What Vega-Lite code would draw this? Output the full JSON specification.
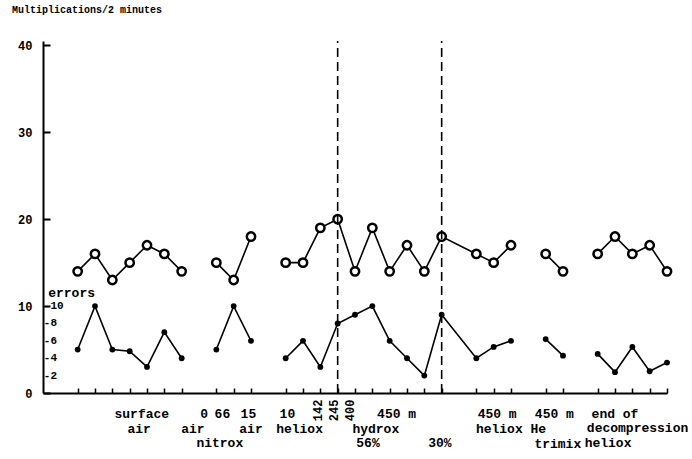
{
  "$schema": "https://vega.github.io/schema/vega-lite/v6.json",
  "width": 624,
  "height": 352,
  "autosize": {"type": "none"},
  "padding": {"left": 43, "top": 41, "right": 25, "bottom": 66},
  "background": "white",
  "config": {"view": {"stroke": null}, "font": "Liberation Mono"},
  "title": {"text": "Multiplications/2 minutes", "anchor": "start", "frame": "group", "dx": -31, "offset": 24, "font": "Liberation Mono", "fontSize": 10, "fontWeight": "bold", "color": "black"},
  "resolve": {"axis": {"x": "independent", "y": "independent"}},
  "datasets": {
    "pts": [
      {"i": 1, "v": 14, "s": "m", "g": "m1"}, {"i": 2, "v": 16, "s": "m", "g": "m1"}, {"i": 3, "v": 13, "s": "m", "g": "m1"}, {"i": 4, "v": 15, "s": "m", "g": "m1"}, {"i": 5, "v": 17, "s": "m", "g": "m1"}, {"i": 6, "v": 16, "s": "m", "g": "m1"}, {"i": 7, "v": 14, "s": "m", "g": "m1"},
      {"i": 9, "v": 15, "s": "m", "g": "m2"}, {"i": 10, "v": 13, "s": "m", "g": "m2"}, {"i": 11, "v": 18, "s": "m", "g": "m2"},
      {"i": 13, "v": 15, "s": "m", "g": "m3"}, {"i": 14, "v": 15, "s": "m", "g": "m3"}, {"i": 15, "v": 19, "s": "m", "g": "m3"}, {"i": 16, "v": 20, "s": "m", "g": "m3"}, {"i": 17, "v": 14, "s": "m", "g": "m3"}, {"i": 18, "v": 19, "s": "m", "g": "m3"}, {"i": 19, "v": 14, "s": "m", "g": "m3"}, {"i": 20, "v": 17, "s": "m", "g": "m3"}, {"i": 21, "v": 14, "s": "m", "g": "m3"}, {"i": 22, "v": 18, "s": "m", "g": "m3"}, {"i": 24, "v": 16, "s": "m", "g": "m3"}, {"i": 25, "v": 15, "s": "m", "g": "m3"}, {"i": 26, "v": 17, "s": "m", "g": "m3"},
      {"i": 28, "v": 16, "s": "m", "g": "m4"}, {"i": 29, "v": 14, "s": "m", "g": "m4"},
      {"i": 31, "v": 16, "s": "m", "g": "m5"}, {"i": 32, "v": 18, "s": "m", "g": "m5"}, {"i": 33, "v": 16, "s": "m", "g": "m5"}, {"i": 34, "v": 17, "s": "m", "g": "m5"}, {"i": 35, "v": 14, "s": "m", "g": "m5"},
      {"i": 1, "v": 5, "s": "e", "g": "e1"}, {"i": 2, "v": 10, "s": "e", "g": "e1"}, {"i": 3, "v": 5, "s": "e", "g": "e1"}, {"i": 4, "v": 4.8, "s": "e", "g": "e1"}, {"i": 5, "v": 3, "s": "e", "g": "e1"}, {"i": 6, "v": 7, "s": "e", "g": "e1"}, {"i": 7, "v": 4, "s": "e", "g": "e1"},
      {"i": 9, "v": 5, "s": "e", "g": "e2"}, {"i": 10, "v": 10, "s": "e", "g": "e2"}, {"i": 11, "v": 6, "s": "e", "g": "e2"},
      {"i": 13, "v": 4, "s": "e", "g": "e3"}, {"i": 14, "v": 6, "s": "e", "g": "e3"}, {"i": 15, "v": 3, "s": "e", "g": "e3"}, {"i": 16, "v": 8, "s": "e", "g": "e3"}, {"i": 17, "v": 9, "s": "e", "g": "e3"}, {"i": 18, "v": 10, "s": "e", "g": "e3"}, {"i": 19, "v": 6, "s": "e", "g": "e3"}, {"i": 20, "v": 4, "s": "e", "g": "e3"}, {"i": 21, "v": 2, "s": "e", "g": "e3"}, {"i": 22, "v": 9, "s": "e", "g": "e3"}, {"i": 24, "v": 4, "s": "e", "g": "e3"}, {"i": 25, "v": 5.3, "s": "e", "g": "e3"}, {"i": 26, "v": 6, "s": "e", "g": "e3"},
      {"i": 28, "v": 6.2, "s": "e", "g": "e4"}, {"i": 29, "v": 4.3, "s": "e", "g": "e4"},
      {"i": 31, "v": 4.5, "s": "e", "g": "e5"}, {"i": 32, "v": 2.4, "s": "e", "g": "e5"}, {"i": 33, "v": 5.3, "s": "e", "g": "e5"}, {"i": 34, "v": 2.5, "s": "e", "g": "e5"}, {"i": 35, "v": 3.5, "s": "e", "g": "e5"}
    ],
    "labs": [
      {"x": 4.7, "y": -2.4, "t": "surface"},
      {"x": 8.3, "y": -2.4, "t": "0"},
      {"x": 9.35, "y": -2.4, "t": "66"},
      {"x": 10.85, "y": -2.4, "t": "15"},
      {"x": 13.1, "y": -2.4, "t": "10"},
      {"x": 19.4, "y": -2.4, "t": "450 m"},
      {"x": 25.2, "y": -2.4, "t": "450 m"},
      {"x": 28.5, "y": -2.4, "t": "450 m"},
      {"x": 32.0, "y": -2.4, "t": "end of"},
      {"x": 4.55, "y": -4.1, "t": "air"},
      {"x": 7.65, "y": -4.1, "t": "air"},
      {"x": 11.0, "y": -4.1, "t": "air"},
      {"x": 13.8, "y": -4.1, "t": "heliox"},
      {"x": 18.2, "y": -4.1, "t": "hydrox"},
      {"x": 26.0, "y": -4.1, "t": "heliox He"},
      {"x": 33.3, "y": -4.0, "t": "decompression"},
      {"x": 9.2, "y": -5.8, "t": "nitrox"},
      {"x": 17.75, "y": -5.8, "t": "56%"},
      {"x": 21.9, "y": -5.8, "t": "30%"},
      {"x": 28.7, "y": -5.85, "t": "trimix"},
      {"x": 31.6, "y": -5.75, "t": "heliox"}
    ],
    "rot": [
      {"x": 14.85, "y": -2.0, "t": "142"},
      {"x": 15.8, "y": -2.0, "t": "245"},
      {"x": 16.7, "y": -2.0, "t": "400"}
    ],
    "errax": [
      {"v": 10, "t": "-10"}, {"v": 8, "t": "-8"}, {"v": 6, "t": "-6"}, {"v": 4, "t": "-4"}, {"v": 2, "t": "-2"}
    ]
  },
  "layer": [
    {
      "data": {"name": "pts"},
      "mark": {"type": "line", "color": "black", "strokeWidth": 1.6},
      "encoding": {
        "x": {"field": "i", "type": "quantitative", "scale": {"domain": [-1, 35], "nice": false, "zero": false},
          "axis": {"values": [1,2,3,4,5,6,7,9,10,11,13,14,15,16,17,18,19,20,21,22,24,25,26,28,29,31,32,33,34,35], "labels": false, "tickSize": -5, "tickWidth": 1.5, "tickColor": "black", "domainColor": "black", "domainWidth": 2, "grid": false, "title": null}},
        "y": {"field": "v", "type": "quantitative", "scale": {"domain": [0, 40.5], "nice": false, "zero": false},
          "axis": {"values": [0, 10, 20, 30, 40], "tickSize": -7, "tickWidth": 2, "tickColor": "black", "domainColor": "black", "domainWidth": 2, "grid": false, "title": null, "labelFont": "Liberation Mono", "labelFontWeight": "bold", "labelFontSize": 12, "labelColor": "black", "labelPadding": 18}},
        "detail": {"field": "g"}
      }
    },
    {
      "data": {"name": "pts"},
      "transform": [{"filter": "datum.s == 'm'"}],
      "mark": {"type": "point", "filled": true, "fill": "white", "stroke": "black", "strokeWidth": 2.5, "size": 70, "opacity": 1},
      "encoding": {
        "x": {"field": "i", "type": "quantitative", "axis": null},
        "y": {"field": "v", "type": "quantitative", "axis": null}
      }
    },
    {
      "data": {"name": "pts"},
      "transform": [{"filter": "datum.s == 'e'"}],
      "mark": {"type": "circle", "color": "black", "size": 34, "opacity": 1},
      "encoding": {
        "x": {"field": "i", "type": "quantitative", "axis": null},
        "y": {"field": "v", "type": "quantitative", "axis": null}
      }
    },
    {
      "data": {"values": [{"d": 16}, {"d": 22}]},
      "mark": {"type": "rule", "color": "black", "strokeWidth": 1.6, "strokeDash": [9, 5]},
      "encoding": {
        "x": {"field": "d", "type": "quantitative", "axis": null},
        "y": {"datum": 0, "axis": null},
        "y2": {"datum": 40.5}
      }
    },
    {
      "data": {"name": "labs"},
      "mark": {"type": "text", "font": "Liberation Mono", "fontWeight": "bold", "fontSize": 13, "color": "black", "align": "center", "baseline": "middle"},
      "encoding": {
        "x": {"field": "x", "type": "quantitative", "axis": null},
        "y": {"field": "y", "type": "quantitative", "axis": null},
        "text": {"field": "t"}
      }
    },
    {
      "data": {"name": "rot"},
      "mark": {"type": "text", "font": "Liberation Mono", "fontWeight": "bold", "fontSize": 12, "color": "black", "align": "center", "baseline": "middle", "angle": 270},
      "encoding": {
        "x": {"field": "x", "type": "quantitative", "axis": null},
        "y": {"field": "y", "type": "quantitative", "axis": null},
        "text": {"field": "t"}
      }
    },
    {
      "data": {"name": "errax"},
      "mark": {"type": "text", "font": "Liberation Mono", "fontWeight": "bold", "fontSize": 11, "color": "black", "align": "left", "baseline": "middle"},
      "encoding": {
        "x": {"datum": -0.95, "axis": null},
        "y": {"field": "v", "type": "quantitative", "axis": null},
        "text": {"field": "t"}
      }
    },
    {
      "data": {"values": [{"t": "errors", "v": 11.5}]},
      "mark": {"type": "text", "font": "Liberation Mono", "fontWeight": "bold", "fontSize": 13, "color": "black", "align": "left", "baseline": "middle"},
      "encoding": {
        "x": {"datum": -0.7, "axis": null},
        "y": {"field": "v", "type": "quantitative", "axis": null},
        "text": {"field": "t"}
      }
    }
  ]
}
